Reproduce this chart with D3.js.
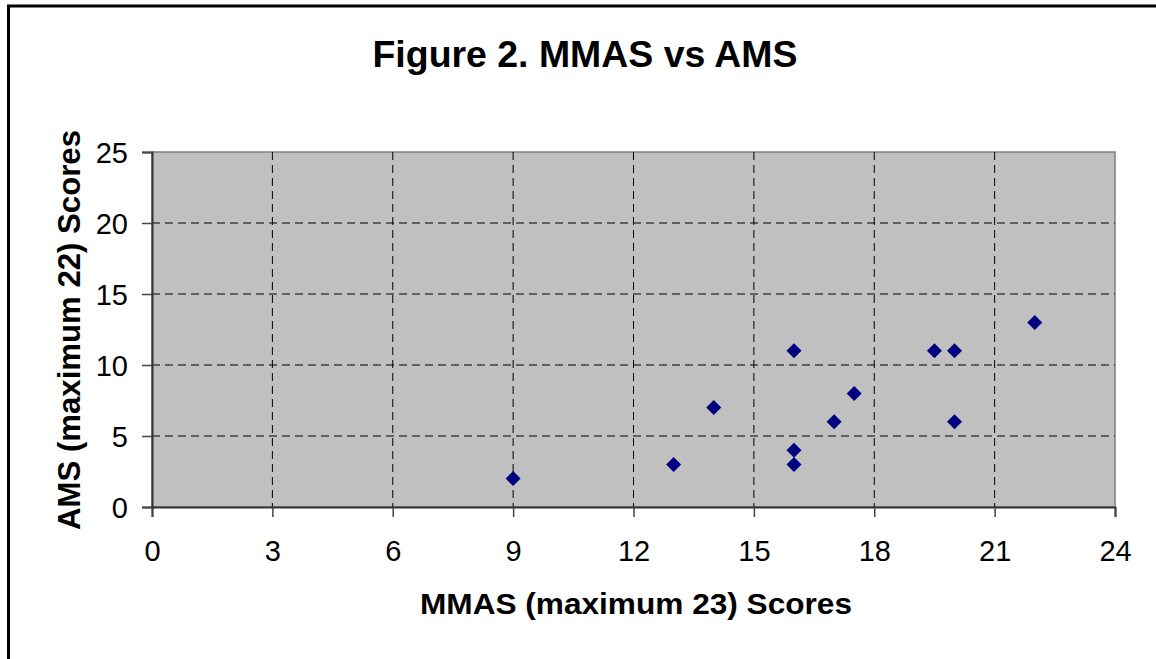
<!doctype html>
<html lang="en">
  <head>
    <meta charset="UTF-8" />
    <title>Figure 2. MMAS vs AMS</title>
    <style>
      body { margin: 0; background: #fff; }
      svg { display: block; font-family: "Liberation Sans", Arial, sans-serif; }
    </style>
  </head>
  <body>
    <div id="target"></div>
    <script src="https://d3js.org/d3.v7.min.js"></script>
    <script>
      /* global d3 */

      // MMAS score (x) and AMS score (y) per participant
      const mmas = [9, 13, 14, 16, 16, 16, 17, 17.5, 19.5, 20, 20, 22];
      const ams = [2, 3, 7, 11, 4, 3, 6, 8, 11, 11, 6, 13];
      const xTicks = [0, 3, 6, 9, 12, 15, 18, 21, 24];
      const yTicks = [0, 5, 10, 15, 20, 25];

      const width = 1156,
        height = 659;

      const svg = d3
        .select("#target")
        .append("svg")
        .attr("width", width)
        .attr("height", height);

      // outer chart frame (runs off the right and bottom edges)
      svg.append("rect")
        .attr("x", 8.5)
        .attr("y", 6)
        .attr("width", 1160)
        .attr("height", 670)
        .attr("fill", "none")
        .attr("stroke", "#000")
        .attr("stroke-width", 3);

      const plot = { left: 152, top: 152, right: 1115, bottom: 507 };

      const x = d3.scaleLinear().domain([0, 24]).range([plot.left, plot.right]);
      const y = d3.scaleLinear().domain([0, 25]).range([plot.bottom, plot.top]);

      svg.append("rect")
        .attr("x", plot.left)
        .attr("y", plot.top)
        .attr("width", plot.right - plot.left)
        .attr("height", plot.bottom - plot.top)
        .attr("fill", "#c0c0c0")
        .attr("stroke", "#808080")
        .attr("stroke-width", 1.5);

      // dashed gridlines
      svg.append("g")
        .selectAll("line")
        .data(xTicks.slice(1, -1))
        .join("line")
        .attr("x1", (d) => x(d))
        .attr("x2", (d) => x(d))
        .attr("y1", plot.top)
        .attr("y2", plot.bottom)
        .attr("stroke", "#000")
        .attr("stroke-dasharray", "8,5");

      svg.append("g")
        .selectAll("line")
        .data(yTicks.slice(1, -1))
        .join("line")
        .attr("x1", plot.left)
        .attr("x2", plot.right)
        .attr("y1", (d) => y(d))
        .attr("y2", (d) => y(d))
        .attr("stroke", "#000")
        .attr("stroke-dasharray", "8,5");

      const xAxis = svg.append("g")
        .attr("transform", `translate(0, ${plot.bottom})`)
        .call(d3.axisBottom(x).tickValues(xTicks).tickSize(10).tickPadding(23));
      const yAxis = svg.append("g")
        .attr("transform", `translate(${plot.left}, 0)`)
        .call(d3.axisLeft(y).tickValues(yTicks).tickSize(10).tickPadding(14));

      [xAxis, yAxis].forEach((a) => {
        a.selectAll("path.domain").attr("stroke", "#333").attr("stroke-width", 2);
        a.selectAll(".tick line").attr("stroke", "#444").attr("stroke-width", 1.5);
        a.selectAll("text")
          .attr("fill", "#000")
          .style("font-size", "29px")
          .style("font-family", '"Liberation Sans", Arial, sans-serif');
      });
      yAxis.selectAll("text").attr("dy", "0.35em");

      // data points as diamonds
      svg.append("g")
        .selectAll("path")
        .data(mmas.map((m, i) => [m, ams[i]]))
        .join("path")
        .attr("transform", (d) => `translate(${x(d[0])},${y(d[1])})`)
        .attr("d", "M0,-7.5L7.5,0L0,7.5L-7.5,0Z")
        .attr("fill", "#000080");

      svg.append("text")
        .attr("x", 585)
        .attr("y", 67)
        .attr("text-anchor", "middle")
        .attr("textLength", 425)
        .attr("lengthAdjust", "spacingAndGlyphs")
        .style("font-size", "36px")
        .style("font-weight", "bold")
        .text("Figure 2. MMAS vs AMS");

      svg.append("text")
        .attr("x", 636)
        .attr("y", 614)
        .attr("text-anchor", "middle")
        .attr("textLength", 432)
        .attr("lengthAdjust", "spacingAndGlyphs")
        .style("font-size", "29px")
        .style("font-weight", "bold")
        .text("MMAS (maximum 23) Scores");

      svg.append("text")
        .attr("transform", "translate(80, 330) rotate(-90)")
        .attr("text-anchor", "middle")
        .attr("textLength", 400)
        .attr("lengthAdjust", "spacingAndGlyphs")
        .style("font-size", "31px")
        .style("font-weight", "bold")
        .text("AMS (maximum 22) Scores");
    </script>
  </body>
</html>
